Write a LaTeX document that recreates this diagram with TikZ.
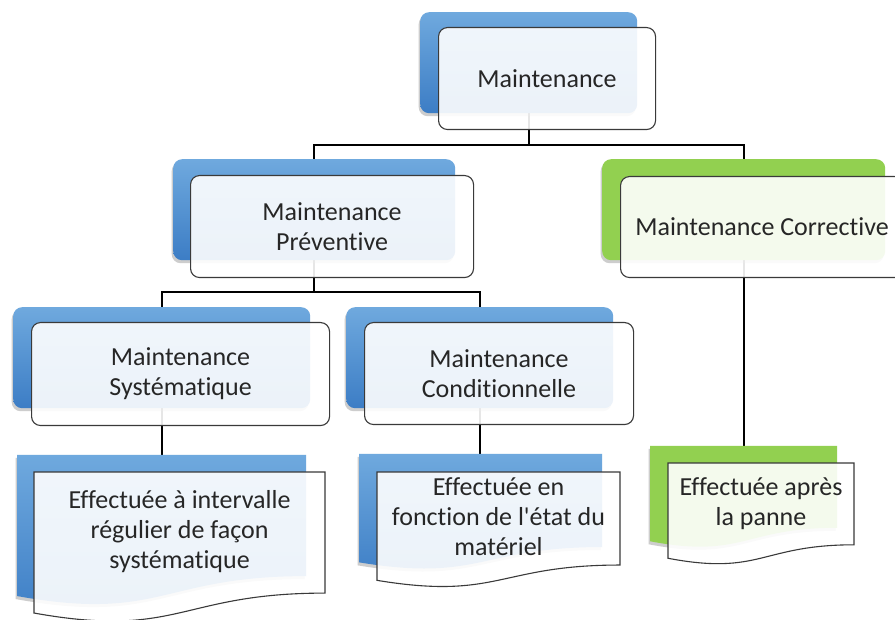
\documentclass[tikz,border=0pt]{standalone}
\usepackage{fontspec}
\setmainfont{Carlito}[Ligatures={NoCommon}]
\usetikzlibrary{shadows}
\definecolor{bluetop}{HTML}{6FA9DE}
\definecolor{bluebot}{HTML}{3C7DC5}
\definecolor{grnback}{HTML}{92D050}
\definecolor{txtc}{HTML}{262626}
\definecolor{edgec}{HTML}{3A3A3A}
\pgfdeclarelayer{base}
\pgfdeclarelayer{bg}
\pgfsetlayers{base,bg,main}
\tikzset{
  softshadow/.style={drop shadow={shadow xshift=-1.5pt,shadow yshift=-3pt,opacity=0.28,fill=black!70}},
  backbox/.style={rectangle,rounded corners=9pt,anchor=north west,inner sep=0pt,draw=none,softshadow},
  bluefill/.style={top color=bluetop,bottom color=bluebot},
  greenfill/.style={fill=grnback},
  frontbox/.style={rectangle,rounded corners=9pt,anchor=north west,inner sep=0pt,draw=edgec,line width=1.1pt,
    fill=white,fill opacity=0.9,text opacity=1,text=txtc,align=center,font=\fontsize{26}{30}\selectfont},
  docframe/.style={rectangle,anchor=north west,inner sep=0pt,draw=none},
  docfront/.style={draw=edgec,line width=1.1pt,fill=white,fill opacity=0.9},
  doctext/.style={text=txtc,align=center,inner sep=0pt,font=\fontsize{26}{30}\selectfont},
  conn/.style={draw=black,line width=1.8pt}
}
% #1 options, #2 x, #3 y, #4 w, #5 h
\newcommand\docshape[5]{%
  \path[#1] (#2,#3) -- ({#2+#4},#3) -- ({#2+#4},{#3+0.802*#5})
    .. controls ({#2+#4/2},{#3+0.802*#5}) and ({#2+#4/2},{#3+1.107*#5}) .. (#2,{#3+0.934*#5}) -- cycle;}
\begin{document}
\begin{tikzpicture}[x=1pt,y=-1pt]
\useasboundingbox (0,0) rectangle (895,620);
\begin{pgfonlayer}{base}
  \fill[white] (0,0) rectangle (895,620);
\end{pgfonlayer}
\clip (0,0) rectangle (895,620);

% ---- back boxes
\node[backbox,bluefill,minimum width=217pt,minimum height=101pt] (mb) at (420,12) {};
\node[backbox,bluefill,minimum width=282pt,minimum height=101pt] (pb) at (173,159) {};
\node[backbox,greenfill,minimum width=283pt,minimum height=101pt] (cb) at (602,159) {};
\node[backbox,bluefill,minimum width=297pt,minimum height=101pt] (sb) at (13,307) {};
\node[backbox,bluefill,minimum width=267pt,minimum height=101pt] (kb) at (346,307) {};

% ---- front boxes
\node[frontbox,minimum width=217pt,minimum height=102pt] (m) at (438,27) {Maintenance};
\node[frontbox,minimum width=283pt,minimum height=102pt] (p) at (190,175) {Maintenance\\Préventive};
\node[frontbox,minimum width=283pt,minimum height=101pt] (c) at (620,176) {Maintenance Corrective};
\node[frontbox,minimum width=298pt,minimum height=103pt] (s) at (31,322) {Maintenance\\Systématique};
\node[frontbox,minimum width=269pt,minimum height=102pt] (k) at (364,322) {Maintenance\\Conditionnelle};

% ---- document shapes (frames)
\node[docframe,minimum width=289pt,minimum height=151pt] (sdb) at (17,455) {};
\node[docframe,minimum width=243pt,minimum height=116pt] (kdb) at (359,454) {};
\node[docframe,minimum width=187pt,minimum height=102pt] (cdb) at (650,446) {};

\docshape{bluefill,softshadow}{17}{455}{289}{151}
\docshape{docfront}{34}{472}{291}{151}
\node[doctext] (sdt) at (179.5,532) {Effectuée à intervalle\\régulier de façon\\systématique};

\docshape{bluefill,softshadow}{359}{454}{243}{116}
\docshape{docfront}{377}{472}{243}{116}
\node[doctext] (kdt) at (498.5,517) {Effectuée en\\fonction de l\textquotesingle état du\\matériel};

\docshape{greenfill,softshadow}{650}{446}{187}{102}
\docshape{docfront}{668}{463}{186}{102}
\node[doctext] (cdt) at (761,504) {Effectuée après\\la panne};

% ---- connectors
\begin{pgfonlayer}{bg}
  \coordinate (j1) at (0,145);
  \coordinate (j2) at (0,292);
  \draw[conn] (mb.south) -- (mb.south |- j1) -| (pb.north);
  \draw[conn] (mb.south |- j1) -| (cb.north);
  \draw[conn] (pb.south) -- (pb.south |- j2) -| (sb.north);
  \draw[conn] (pb.south |- j2) -| (kb.north);
  \draw[conn] (sb.south) -- (sdb.north -| sb.south);
  \draw[conn] (kb.south) -- (kdb.north -| kb.south);
  \draw[conn] (cb.south) -- (cdb.north -| cb.south);
\end{pgfonlayer}
\end{tikzpicture}
\end{document}
